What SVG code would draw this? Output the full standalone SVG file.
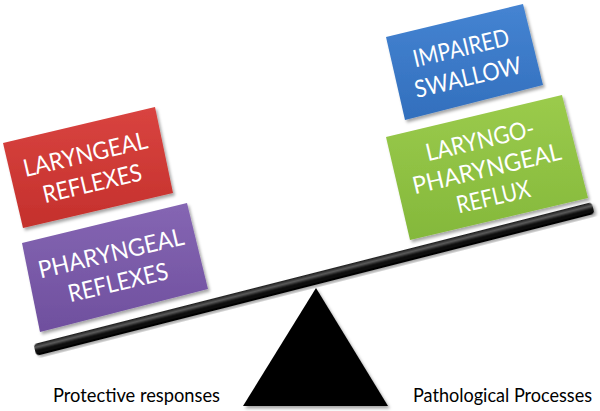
<svg xmlns="http://www.w3.org/2000/svg" width="600" height="411" viewBox="0 0 600 411">
<defs>
<style>
.lbl{font-family:Lato,"Liberation Sans",sans-serif;font-size:24px;fill:#ffffff;text-anchor:middle;dominant-baseline:central}
.cap{font-family:Lato,"Liberation Sans",sans-serif;font-size:18.5px;fill:#000000}
.box{filter:url(#sh)}
</style>
<filter id="sh" x="-10%" y="-10%" width="130%" height="130%">
<feDropShadow dx="2" dy="2.5" stdDeviation="1.8" flood-color="#000" flood-opacity="0.35"/>
</filter>
<linearGradient id="gRed" x1="0" y1="0" x2="0" y2="1"><stop offset="0" stop-color="#d94440"/><stop offset="1" stop-color="#c4302c"/></linearGradient>
<linearGradient id="gPur" x1="0" y1="0" x2="0" y2="1"><stop offset="0" stop-color="#8566b3"/><stop offset="1" stop-color="#6f4f9e"/></linearGradient>
<linearGradient id="gBlu" x1="0" y1="0" x2="0" y2="1"><stop offset="0" stop-color="#4584d2"/><stop offset="1" stop-color="#326fbd"/></linearGradient>
<linearGradient id="gGrn" x1="0" y1="0" x2="0" y2="1"><stop offset="0" stop-color="#9bcb4c"/><stop offset="1" stop-color="#84b83b"/></linearGradient>
<linearGradient id="gBeam" x1="0" y1="0" x2="0" y2="1"><stop offset="0" stop-color="#1a1a1a"/><stop offset="0.3" stop-color="#5a5a5a"/><stop offset="0.55" stop-color="#111"/><stop offset="1" stop-color="#000"/></linearGradient>
</defs>
<rect width="600" height="411" fill="#ffffff"/>

<g id="balance">
<polygon points="316,288 243,406 388,406" fill="#000000" filter="url(#sh)"/>
<rect x="-288" y="-6" width="576" height="12" rx="4" fill="url(#gBeam)" transform="translate(314 279) rotate(-14.28)" filter="url(#sh)"/>
</g>

<g id="laryngeal-reflexes">
<polygon class="box" points="3,143 155,107 173,193 23,228" fill="url(#gRed)"/>
<g transform="translate(88.5 167.75) rotate(-13.3)">
<text class="lbl" x="0" y="-15" textLength="127" lengthAdjust="spacingAndGlyphs">LARYNGEAL</text>
<text class="lbl" x="0" y="15" textLength="101" lengthAdjust="spacingAndGlyphs">REFLEXES</text>
</g>
</g>

<g id="pharyngeal-reflexes">
<polygon class="box" points="22,243 187,203 208,289 40,332" fill="url(#gPur)"/>
<g transform="translate(114.25 266.75) rotate(-13.3)">
<text class="lbl" x="0" y="-15" textLength="149" lengthAdjust="spacingAndGlyphs">PHARYNGEAL</text>
<text class="lbl" x="0" y="15" textLength="102" lengthAdjust="spacingAndGlyphs">REFLEXES</text>
</g>
</g>

<g id="impaired-swallow">
<polygon class="box" points="386,37 523,4 543,85 405,120" fill="url(#gBlu)"/>
<g transform="translate(464.25 61.5) rotate(-13.3)">
<text class="lbl" x="0" y="-15" textLength="98" lengthAdjust="spacingAndGlyphs">IMPAIRED</text>
<text class="lbl" x="0" y="15" textLength="109" lengthAdjust="spacingAndGlyphs">SWALLOW</text>
</g>
</g>

<g id="lpr">
<polygon class="box" points="386,137 562,95 588,198 410,240" fill="url(#gGrn)"/>
<g transform="translate(486.5 167.5) rotate(-13.3)">
<text class="lbl" x="0" y="-29" textLength="111" lengthAdjust="spacingAndGlyphs">LARYNGO-</text>
<text class="lbl" x="0" y="0" textLength="152" lengthAdjust="spacingAndGlyphs">PHARYNGEAL</text>
<text class="lbl" x="0" y="29" textLength="75" lengthAdjust="spacingAndGlyphs">REFLUX</text>
</g>
</g>

<g id="captions">
<text class="cap" x="53" y="402" textLength="167" lengthAdjust="spacingAndGlyphs">Protective responses</text>
<text class="cap" x="413" y="402" textLength="179" lengthAdjust="spacingAndGlyphs">Pathological Processes</text>
</g>

<g id="connectors"/>
</svg>
